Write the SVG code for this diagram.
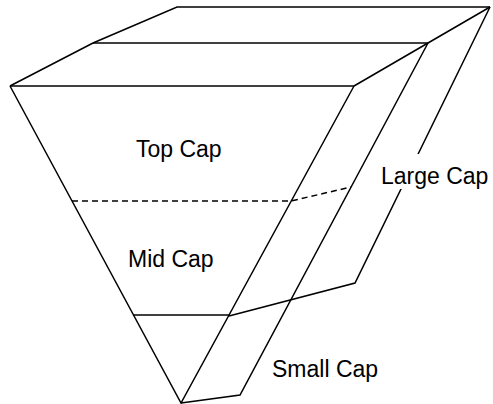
<svg xmlns="http://www.w3.org/2000/svg" width="493" height="404" viewBox="0 0 493 404">
  <style>
    .edge { fill: none; stroke: #000; stroke-width: 1.5; stroke-linejoin: miter; stroke-linecap: butt; }
    .hidden { stroke-dasharray: 6 4; }
    .label { font-family: "Liberation Sans", Arial, sans-serif; font-size: 23px; fill: #000; }
    .label-bg { fill: #fff; stroke: none; }
  </style>
  <rect width="493" height="404" fill="#fff"/>

  <!-- edges of the tilted block and the cap slices -->
  <g id="connectors">
    <!-- top face -->
    <polyline class="edge" points="10,86 93,43 177,7 490,7"/>
    <line class="edge" x1="93" y1="43" x2="428" y2="43"/>
    <line class="edge" x1="10" y1="86" x2="354" y2="86"/>
    <polyline class="edge" points="354,86 428,43 490,7"/>
    <!-- front inverted triangle -->
    <polyline class="edge" points="10,86 181,403 354,86"/>
    <!-- middle edge and bottom -->
    <polyline class="edge" points="428,43 240,395 181,403"/>
    <!-- back right edge and large cap base -->
    <polyline class="edge" points="490,7 355,283 229,316"/>
    <!-- small cap boundary -->
    <line class="edge" x1="133" y1="315" x2="229" y2="315"/>
    <!-- hidden divider between top and mid cap -->
    <polyline class="edge hidden" points="72,201 291,201 351,187"/>
  </g>

  <g id="top-cap">
    <text class="label" x="136" y="157">Top Cap</text>
  </g>
  <g id="mid-cap">
    <text class="label" x="128" y="267">Mid Cap</text>
  </g>
  <g id="large-cap">
    <rect class="label-bg" x="378" y="154" width="113" height="35"/>
    <text class="label" x="381" y="184">Large Cap</text>
  </g>
  <g id="small-cap">
    <text class="label" x="272" y="377">Small Cap</text>
  </g>
</svg>
